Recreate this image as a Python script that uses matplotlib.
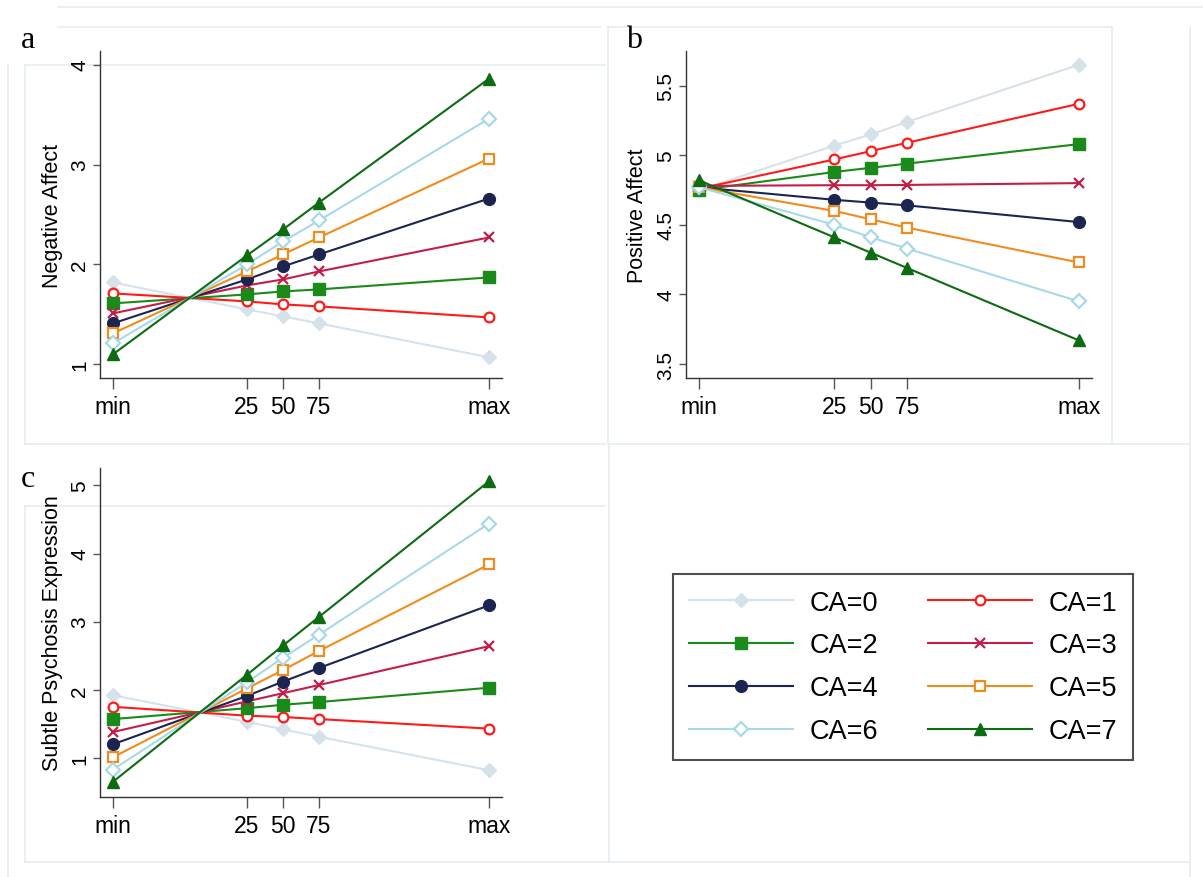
import matplotlib
matplotlib.use("Agg")
import matplotlib.pyplot as plt
from matplotlib.lines import Line2D

plt.rcParams['font.family'] = ['Liberation Sans', 'DejaVu Sans']

# ---------------- data ----------------
x_vals = [-68, 25, 50, 75, 193]
x_labels = ["min", "25", "50", "75", "max"]
groups = ["CA=0", "CA=1", "CA=2", "CA=3", "CA=4", "CA=5", "CA=6", "CA=7"]

neg_ca0 = [1.82, 1.55, 1.48, 1.41, 1.07]
neg_ca1 = [1.71, 1.63, 1.60, 1.58, 1.47]
neg_ca2 = [1.61, 1.70, 1.73, 1.75, 1.87]
neg_ca3 = [1.51, 1.79, 1.85, 1.93, 2.27]
neg_ca4 = [1.41, 1.85, 1.98, 2.10, 2.66]
neg_ca5 = [1.31, 1.93, 2.10, 2.27, 3.06]
neg_ca6 = [1.21, 2.00, 2.23, 2.44, 3.46]
neg_ca7 = [1.10, 2.09, 2.35, 2.62, 3.86]

pos_ca0 = [4.75, 5.07, 5.15, 5.24, 5.65]
pos_ca1 = [4.76, 4.97, 5.03, 5.09, 5.37]
pos_ca2 = [4.75, 4.88, 4.91, 4.94, 5.08]
pos_ca3 = [4.78, 4.785, 4.785, 4.787, 4.80]
pos_ca4 = [4.77, 4.68, 4.66, 4.64, 4.52]
pos_ca5 = [4.77, 4.60, 4.54, 4.48, 4.23]
pos_ca6 = [4.77, 4.50, 4.41, 4.33, 3.95]
pos_ca7 = [4.82, 4.41, 4.30, 4.19, 3.67]

sps_ca0 = [1.92, 1.53, 1.42, 1.31, 0.82]
sps_ca1 = [1.75, 1.62, 1.60, 1.57, 1.43]
sps_ca2 = [1.57, 1.73, 1.78, 1.82, 2.03]
sps_ca3 = [1.38, 1.83, 1.95, 2.07, 2.64]
sps_ca4 = [1.20, 1.91, 2.12, 2.32, 3.24]
sps_ca5 = [1.01, 2.02, 2.29, 2.57, 3.84]
sps_ca6 = [0.83, 2.11, 2.47, 2.81, 4.44]
sps_ca7 = [0.65, 2.22, 2.65, 3.07, 5.06]

neg = [neg_ca0, neg_ca1, neg_ca2, neg_ca3, neg_ca4, neg_ca5, neg_ca6, neg_ca7]
pos = [pos_ca0, pos_ca1, pos_ca2, pos_ca3, pos_ca4, pos_ca5, pos_ca6, pos_ca7]
sps = [sps_ca0, sps_ca1, sps_ca2, sps_ca3, sps_ca4, sps_ca5, sps_ca6, sps_ca7]

# ---------------- styles ----------------
colors = ["#d6e2e9", "#ff1a1a", "#1a8a1a", "#c41e48", "#1c2550", "#f08c1e", "#a9d8ea", "#0d6b12"]
markers = ["D", "o", "s", "x", "o", "s", "D", "^"]
filled = [True, False, True, True, True, False, False, True]
msizes = [7.5, 7, 8, 7, 8.5, 7, 7, 8.5]

fig = plt.figure(figsize=(12.03, 8.78), dpi=100)

# faint background frames (composition artifacts)
fc = "#e4edf1"
def fline(x0, y0, x1, y1):
    fig.add_artist(Line2D([x0 / 1203, x1 / 1203], [1 - y0 / 878, 1 - y1 / 878],
                          transform=fig.transFigure, color=fc, lw=1.2, zorder=0))
fline(58, 8, 1203, 8)
fline(58, 28, 600, 28)
fline(25, 66, 605, 66)
fline(25, 66, 25, 445)
fline(8, 66, 8, 878)
fline(25, 445, 605, 445)
fline(608, 28, 1112, 28)
fline(608, 28, 608, 445)
fline(1112, 28, 1112, 445)
fline(608, 445, 1190, 445)
fline(1190, 28, 1190, 878)
fline(25, 507, 25, 863)
fline(25, 863, 1190, 863)
fline(609, 445, 609, 863)
fline(25, 507, 605, 507)

XTICK_FS = 16.5
YTICK_FS = 15
LAB_FS = 15.5


def make_ax(rect, data, ylim, yticks, yticklabels, ylabel, lab_x):
    ax = fig.add_axes(rect)
    handles = []
    for i in range(8):
        mfc = colors[i] if filled[i] else "white"
        h, = ax.plot(x_vals, data[i], color=colors[i], lw=1.5, marker=markers[i],
                     ms=msizes[i], mfc=mfc if markers[i] != "x" else colors[i],
                     mec=colors[i], mew=1.6 if not filled[i] or markers[i] == "x" else 1.0,
                     label=groups[i], zorder=3 + i)
        handles.append(h)
    ax.set_xlim(-77, 202)
    ax.set_ylim(*ylim)
    ax.set_xticks(x_vals)
    ax.set_xticklabels(x_labels, fontsize=XTICK_FS)
    ax.set_yticks(yticks)
    ax.set_yticklabels(yticklabels, fontsize=YTICK_FS, rotation=90, va="center")
    for s in ["top", "right"]:
        ax.spines[s].set_visible(False)
    for s in ["left", "bottom"]:
        ax.spines[s].set_color("#333333")
        ax.spines[s].set_linewidth(1.0)
    ax.tick_params(axis="x", length=8, width=1.0, color="#555555", pad=4)
    ax.tick_params(axis="y", length=5, width=1.0, color="#555555", pad=2.6)
    ax.set_ylabel(ylabel, fontsize=LAB_FS)
    ax.yaxis.set_label_coords(lab_x, 0.5)
    ax.patch.set_alpha(0)
    return ax, handles

ax_a, handles = make_ax([100 / 1203, 1 - 379 / 878, 402 / 1203, 327 / 878], neg,
                        (0.863, 4.137), [1, 2, 3, 4], ["1", "2", "3", "4"], "Negative Affect", -0.092)
ax_b, _ = make_ax([686 / 1203, 1 - 379 / 878, 406 / 1203, 327 / 878], pos,
                  (3.40, 5.749), [3.5, 4, 4.5, 5, 5.5], ["3.5", "4", "4.5", "5", "5.5"],
                  "Positive Affect", -0.0936)
ax_c, _ = make_ax([100 / 1203, 1 - 798 / 878, 402 / 1203, 329 / 878], sps,
                  (0.4265, 5.255), [1, 2, 3, 4, 5], ["1", "2", "3", "4", "5"],
                  "Subtle Psychosis Expression", -0.092)

# panel letters
fig.text(21 / 1203, 1 - 48 / 878, "a", family="Liberation Serif", fontsize=23)
fig.text(626 / 1203, 1 - 48 / 878, "b", family="Liberation Serif", fontsize=23)
fig.text(21 / 1203, 1 - 487 / 878, "c", family="Liberation Serif", fontsize=23)

# legend (column-major order CA=0,2,4,6 | 1,3,5,7)
order = [0, 2, 4, 6, 1, 3, 5, 7]
leg = fig.legend([handles[i] for i in order], [groups[i] for i in order], ncol=2,
                 loc="upper left", bbox_to_anchor=(673 / 1203, 1 - 575 / 878),
                 fontsize=19.5, frameon=True, fancybox=False, edgecolor="#222222",
                 handlelength=3.85, handletextpad=0.6, columnspacing=1.85,
                 labelspacing=0.62, borderpad=0.58, borderaxespad=0)
leg.get_frame().set_linewidth(1.5)

fig.savefig("out.png", dpi=100)
